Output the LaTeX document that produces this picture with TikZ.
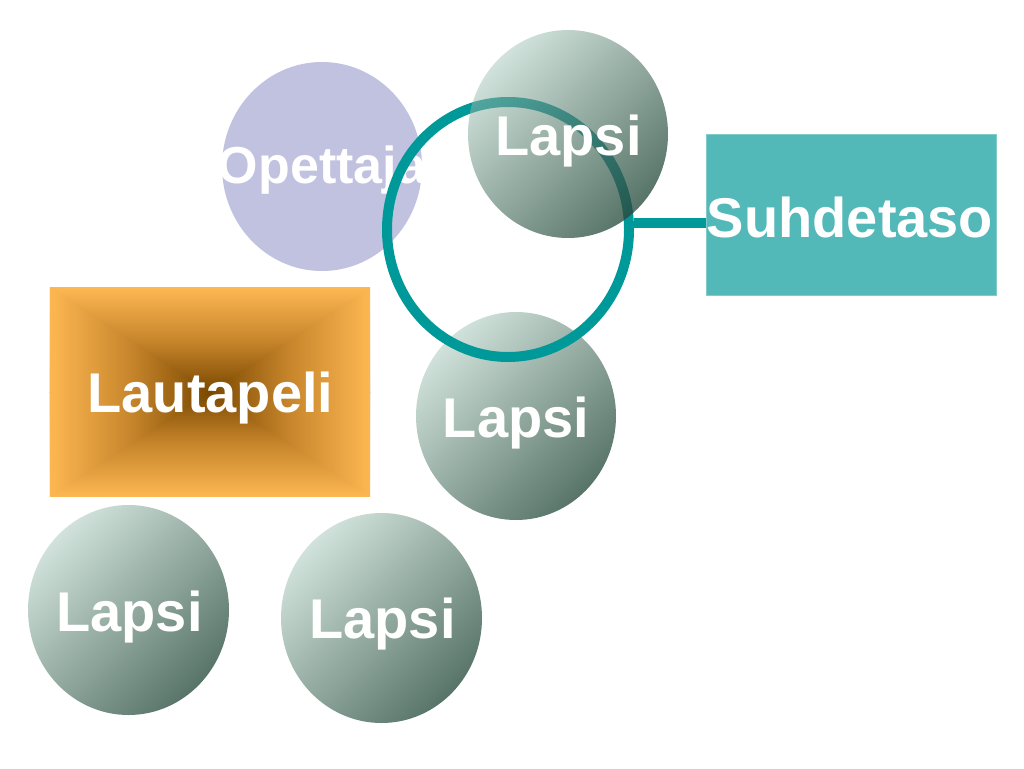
\documentclass[tikz,border=0pt]{standalone}
\usepackage{fontspec}
\setmainfont{Liberation Sans}
\usetikzlibrary{shapes.geometric}
\definecolor{lav}{HTML}{C0C2E0}
\definecolor{lapsilight}{HTML}{D0E2DB}
\definecolor{lapsidark}{HTML}{587468}
\definecolor{ringteal}{HTML}{009999}
\definecolor{boxteal}{HTML}{52B8B8}
\definecolor{boxedge}{HTML}{80CCCC}
\definecolor{boardedge}{HTML}{FDB752}
\definecolor{boardmid}{HTML}{C8862C}
\definecolor{boardcore}{HTML}{7A4800}
\begin{document}
\begin{tikzpicture}[x=1pt,y=-1pt,
  bubble/.style={ellipse, inner sep=0pt, minimum width=200pt, minimum height=208pt,
    shade, top color=lapsilight, bottom color=lapsidark, shading angle=45},
  wordtext/.style={anchor=base, inner sep=0pt, text=white,
    font=\fontsize{56}{60}\selectfont\bfseries},
  ringstyle/.style={draw=ringteal, line width=10pt},
  ringline/.style={ringteal, line width=10pt}]
\useasboundingbox (0,0) rectangle (1024,768);

% Opettaja
\node[ellipse, inner sep=0pt, minimum width=200pt, minimum height=209pt, fill=lav] (opettaja) at (322,166.5) {};
\node[wordtext, font=\fontsize{52}{58}\selectfont\bfseries] (topettaja) at (322,183) {Opettaja};

% Lautapeli board
\node[rectangle, inner sep=0pt, minimum width=320pt, minimum height=208pt] (board) at (210,392) {};
\shade[top color=boardedge, bottom color=boardcore, middle color=boardmid] (board.north west) rectangle (board.east);
\shade[top color=boardcore, bottom color=boardedge, middle color=boardmid] (board.west) rectangle (board.south east);
\shade[left color=boardedge, right color=boardcore, middle color=boardmid] (board.north west) -- (board.center) -- (board.south west) -- cycle;
\shade[left color=boardcore, right color=boardedge, middle color=boardmid] (board.north east) -- (board.center) -- (board.south east) -- cycle;
\node[wordtext] (tboard) at (210.5,412) {Lautapeli};

% Lapsi bubbles
\node[bubble] (lapsiB) at (516,416) {};
\node[wordtext] (tlapsiB) at (516,437) {Lapsi};
\node[bubble, minimum width=201pt, minimum height=210pt] (lapsiC) at (128.5,610) {};
\node[wordtext] (tlapsiC) at (129.5,631) {Lapsi};
\node[bubble, minimum width=201pt, minimum height=210pt] (lapsiD) at (381.5,618) {};
\node[wordtext] (tlapsiD) at (382.5,638) {Lapsi};

% Suhdetaso
\node[rectangle, inner sep=0pt, minimum width=290pt, minimum height=161pt, fill=boxteal, draw=boxedge, line width=1pt] (sbox) at (851,214.5) {};
\node[wordtext] (tsbox) at (850,237) {Suhdetaso};

% ring and connector
\node[ellipse, inner sep=0pt, minimum width=242pt, minimum height=255pt, ringstyle] (ring) at (508,229.5) {};
\draw[ringline] (ring.3.5) -- (ring.3.5 -| sbox.west);

% top Lapsi over the ring
\node[bubble] (lapsiA) at (568,134) {};
\begin{scope}
  \clip (lapsiA.center) ellipse [x radius=100pt, y radius=104pt];
  \draw[ringteal, line width=10pt, opacity=0.6, blend mode=multiply] (ring.center) ellipse [x radius=121pt, y radius=127.5pt];
\end{scope}
\node[wordtext] (tlapsiA) at (568.5,155) {Lapsi};
\end{tikzpicture}
\end{document}
